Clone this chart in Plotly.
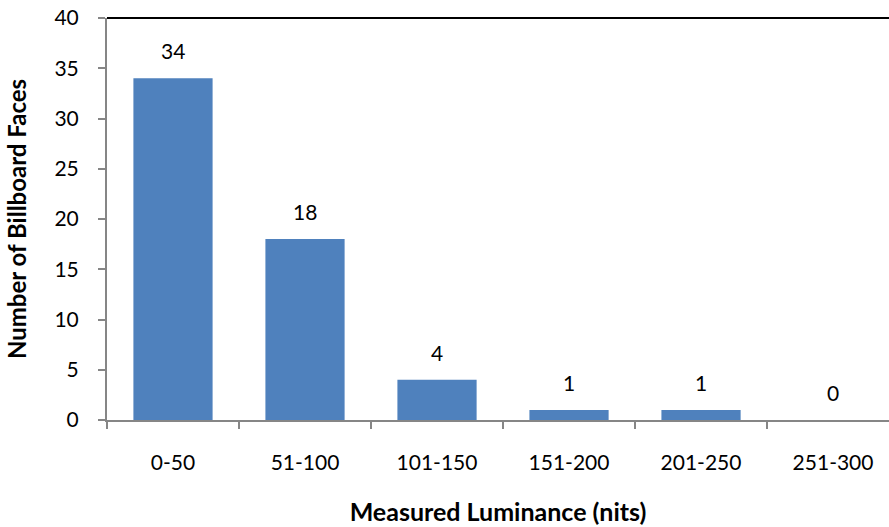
import plotly.graph_objects as go

categories = ["0-50", "51-100", "101-150", "151-200", "201-250", "251-300"]
counts = [34, 18, 4, 1, 1, 0]
y_ticks = [0, 5, 10, 15, 20, 25, 30, 35, 40]

FONT = "Lato, Calibri, Carlito, sans-serif"
BAR = "#4F81BD"
AXIS = "#868686"

fig = go.Figure()
fig.add_trace(go.Bar(
    x=categories, y=counts, width=0.6,
    marker=dict(color=BAR, line=dict(width=0)),
    cliponaxis=False,
))

for c, v in zip(categories, counts):
    fig.add_annotation(x=c, y=v, text=str(v), showarrow=False,
                       yanchor="bottom", yshift=13,
                       font=dict(family=FONT, size=21, color="#000000"))

fig.add_shape(type="line", xref="paper", yref="paper", x0=0, x1=1, y0=1, y1=1,
              line=dict(color="#000000", width=2), layer="above")

fig.update_layout(
    width=889, height=527,
    margin=dict(l=107, r=0, t=18, b=107, autoexpand=False),
    paper_bgcolor="white", plot_bgcolor="white",
    showlegend=False,
    font=dict(family=FONT, size=21, color="#000000"),
    xaxis=dict(
        range=[-0.5, 5.424], type="category", automargin=False,
        showline=True, linecolor=AXIS, linewidth=2,
        ticks="outside", tickson="boundaries", ticklen=7, tickcolor=AXIS, tickwidth=2,
        ticklabelstandoff=23,
        showgrid=False, zeroline=False,
        tickfont=dict(family=FONT, size=21),
        title=dict(text="<b>Measured Luminance (nits)</b>", standoff=30,
                   font=dict(family=FONT, size=25)),
    ),
    yaxis=dict(
        range=[0, 40], tickvals=y_ticks, automargin=False,
        showline=True, linecolor=AXIS, linewidth=2,
        ticks="outside", ticklen=7, tickcolor=AXIS, tickwidth=2,
        ticklabelstandoff=15, ticklabeloverflow="allow",
        showgrid=False, zeroline=False,
        tickfont=dict(family=FONT, size=21),
        title=dict(text="<b>Number of Billboard Faces</b>", standoff=21,
                   font=dict(family=FONT, size=24)),
    ),
    bargap=0.4,
)

fig.write_html("out.html", config={"displayModeBar": False},
               post_script="document.body.style.margin='0';")
